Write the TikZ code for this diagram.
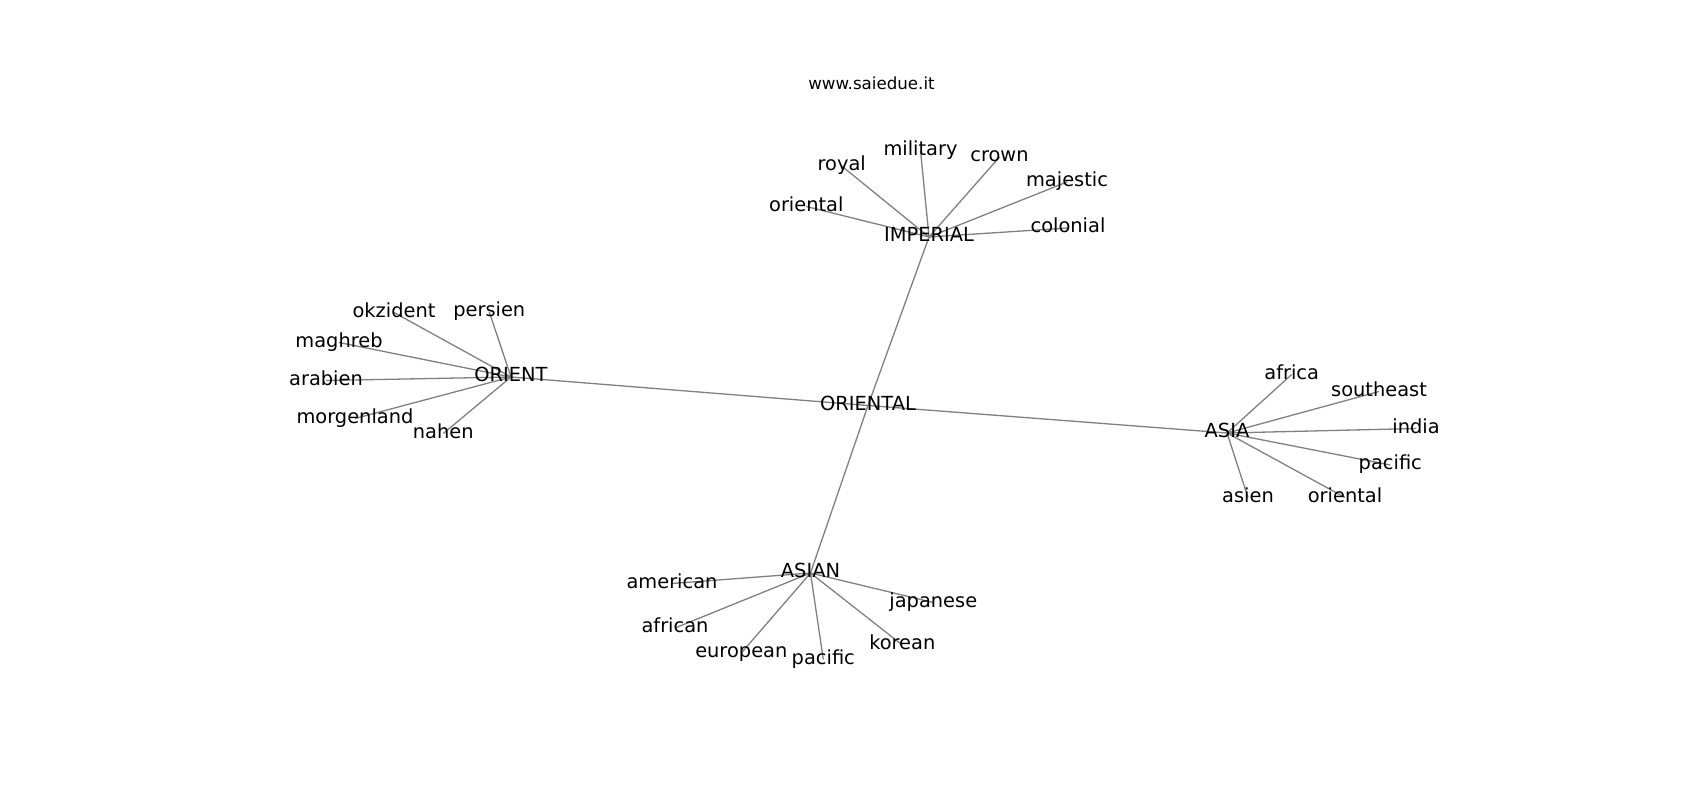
\documentclass[tikz,border=0pt]{standalone}
\usepackage{fontspec}
\setmainfont{DejaVu Sans}
\begin{document}
\begin{tikzpicture}[x=1pt,y=-1pt,
  lbl/.style={inner sep=0pt,outer sep=0pt,anchor=center,yshift=-2pt,font=\fontsize{19.4}{22}\selectfont,text height=0.76em,text depth=0.24em},
  ttl/.style={inner sep=0pt,anchor=center,font=\fontsize{16.67}{19}\selectfont,text height=0.76em,text depth=0.24em},
  edge/.style={draw=black!50,line width=1.3pt}]
\useasboundingbox (0,0) rectangle (1700,800);
\begin{scope}[shift={(0,3.5)}]
\node[ttl] (title) at (871.5,83) {www.saiedue.it};
% hubs
\coordinate (ORIENTAL) at (868,402);
\coordinate (IMPERIAL) at (929,233.5);
\coordinate (ORIENT) at (511,373.5);
\coordinate (ASIA) at (1227,429.5);
\coordinate (ASIAN) at (810.5,569.5);
% IMPERIAL leaves
\coordinate (i1) at (841.7,162.5);
\coordinate (i2) at (920.5,147);
\coordinate (i3) at (999.5,153.5);
\coordinate (i4) at (1067,178.5);
\coordinate (i5) at (806.3,203);
\coordinate (i6) at (1068,224.5);
% ORIENT leaves
\coordinate (o1) at (394,309);
\coordinate (o2) at (489.3,308.5);
\coordinate (o3) at (339,339);
\coordinate (o4) at (326,377);
\coordinate (o5) at (355,415);
\coordinate (o6) at (443.3,430);
% ASIA leaves
\coordinate (a1) at (1291.7,371);
\coordinate (a2) at (1379,388);
\coordinate (a3) at (1416,425);
\coordinate (a4) at (1390.3,461.5);
\coordinate (a5) at (1248,494);
\coordinate (a6) at (1345,494);
% ASIAN leaves
\coordinate (n1) at (672,580);
\coordinate (n2) at (933.3,599);
\coordinate (n3) at (675,624.5);
\coordinate (n4) at (741.3,649.5);
\coordinate (n5) at (823.3,656);
\coordinate (n6) at (902.3,641.5);
% edges
\foreach \h in {IMPERIAL,ORIENT,ASIA,ASIAN} \draw[edge] (ORIENTAL) -- (\h);
\foreach \l in {i1,i2,i3,i4,i5,i6} \draw[edge] (IMPERIAL) -- (\l);
\foreach \l in {o1,o2,o3,o4,o5,o6} \draw[edge] (ORIENT) -- (\l);
\foreach \l in {a1,a2,a3,a4,a5,a6} \draw[edge] (ASIA) -- (\l);
\foreach \l in {n1,n2,n3,n4,n5,n6} \draw[edge] (ASIAN) -- (\l);
% labels
\node[lbl] (tORIENTAL) at (ORIENTAL) {ORIENTAL};
\node[lbl] (tIMPERIAL) at (IMPERIAL) {IMPERIAL};
\node[lbl] (tORIENT) at (ORIENT) {ORIENT};
\node[lbl] (tASIA) at (ASIA) {ASIA};
\node[lbl] (tASIAN) at (ASIAN) {ASIAN};
\node[lbl] (ti1) at (i1) {royal};
\node[lbl] (ti2) at (i2) {military};
\node[lbl] (ti3) at (i3) {crown};
\node[lbl] (ti4) at (i4) {majestic};
\node[lbl] (ti5) at (i5) {oriental};
\node[lbl] (ti6) at (i6) {colonial};
\node[lbl] (to1) at (o1) {okzident};
\node[lbl] (to2) at (o2) {persien};
\node[lbl] (to3) at (o3) {maghreb};
\node[lbl] (to4) at (o4) {arabien};
\node[lbl] (to5) at (o5) {morgenland};
\node[lbl] (to6) at (o6) {nahen};
\node[lbl] (ta1) at (a1) {africa};
\node[lbl] (ta2) at (a2) {southeast};
\node[lbl] (ta3) at (a3) {india};
\node[lbl] (ta4) at (a4) {pacific};
\node[lbl] (ta5) at (a5) {asien};
\node[lbl] (ta6) at (a6) {oriental};
\node[lbl] (tn1) at (n1) {american};
\node[lbl] (tn2) at (n2) {japanese};
\node[lbl] (tn3) at (n3) {african};
\node[lbl] (tn4) at (n4) {european};
\node[lbl] (tn5) at (n5) {pacific};
\node[lbl] (tn6) at (n6) {korean};
\end{scope}
\end{tikzpicture}
\end{document}
